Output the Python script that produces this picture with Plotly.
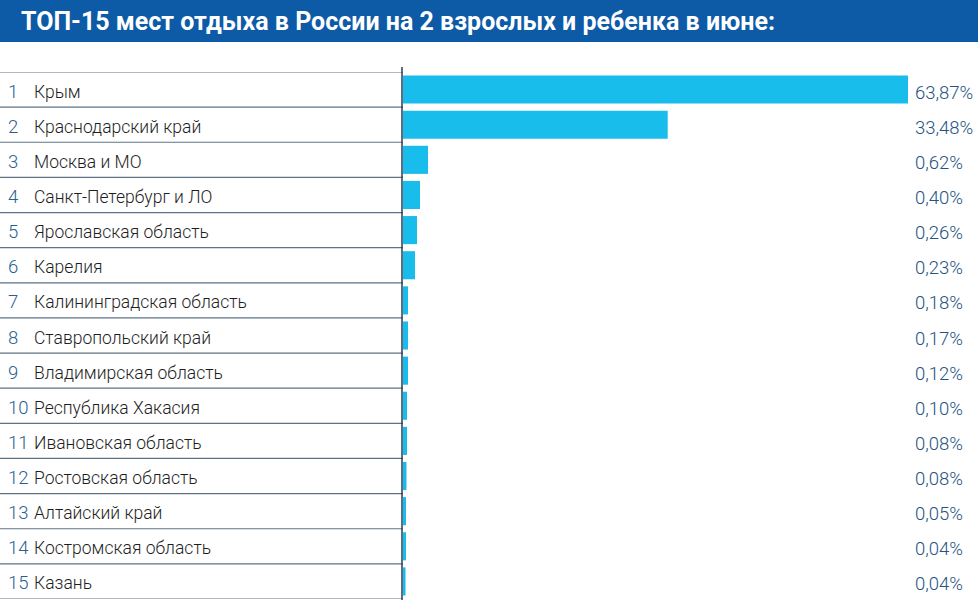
import plotly.graph_objects as go

title = "ТОП-15 мест отдыха в России на 2 взрослых и ребенка в июне:"
ranks = [str(i) for i in range(1, 16)]
regions = ["Крым", "Краснодарский край", "Москва и МО", "Санкт-Петербург и ЛО",
           "Ярославская область", "Карелия", "Калининградская область",
           "Ставропольский край", "Владимирская область", "Республика Хакасия",
           "Ивановская область", "Ростовская область", "Алтайский край",
           "Костромская область", "Казань"]
shares = [63.87, 33.48, 0.62, 0.40, 0.26, 0.23, 0.18, 0.17, 0.12, 0.10,
          0.08, 0.08, 0.05, 0.04, 0.04]
# bar lengths as drawn in the picture (small bars are visually enlarged in the original)
bar_lengths = [63.87, 33.48, 3.16, 2.15, 1.77, 1.52, 0.63, 0.63, 0.63, 0.51,
               0.51, 0.44, 0.38, 0.38, 0.32]

W, H = 978, 600
fmt = lambda v: f"{v:.2f}".replace(".", ",") + "%"

n = len(regions)
ypos = list(range(n))

fig = go.Figure()
fig.add_trace(go.Bar(
    x=bar_lengths, y=ypos, orientation="h",
    marker=dict(color="#19bdec", line=dict(width=0)),
    width=0.8, hoverinfo="skip", showlegend=False,
))

bar_left = 403
x_right_px = W
scale_px = 505 / shares[0]
xmax = (x_right_px - bar_left) / scale_px

top_px, bot_px = 72, 599
fig.update_layout(
    width=W, height=H,
    margin=dict(l=0, r=0, t=0, b=0),
    paper_bgcolor="white", plot_bgcolor="white",
    xaxis=dict(domain=[bar_left / W, 1], range=[0, xmax], visible=False, fixedrange=True),
    yaxis=dict(domain=[1 - bot_px / H, 1 - top_px / H], range=[n - 0.5, -0.5],
               visible=False, fixedrange=True),
    font=dict(family="Roboto, sans-serif"),
)

shapes = []
# title bar
shapes.append(dict(type="rect", xref="paper", yref="paper", x0=0, x1=1,
                   y0=1 - 42 / H, y1=1, fillcolor="#0d5aa7", line=dict(width=0), layer="below"))
# row lines
for i in range(n + 1):
    shapes.append(dict(type="line", xref="paper", yref="y", x0=0, x1=bar_left / W,
                       y0=i - 0.5, y1=i - 0.5, line=dict(color="#5f7385", width=1.2)))
# vertical separator
shapes.append(dict(type="line", xref="paper", yref="paper", x0=(bar_left - 1) / W, x1=(bar_left - 1) / W,
                   y0=0, y1=1 - 67 / H, line=dict(color="#2a3d50", width=1.5)))
fig.update_layout(shapes=shapes)

ann = []
ann.append(dict(text=f"<b>{title}</b>", xref="paper", yref="paper", x=19 / W, y=1 - 22 / H,
                xanchor="left", yanchor="middle", showarrow=False,
                font=dict(family="Roboto, sans-serif", size=25, color="white")))
for i in range(n):
    ann.append(dict(text=ranks[i], xref="paper", yref="y", x=6 / W, y=i, yshift=-2,
                    xanchor="left", yanchor="middle", showarrow=False,
                    font=dict(size=18.5, color="#2b5f8e", weight=300)))
    ann.append(dict(text=regions[i], xref="paper", yref="y", x=32 / W, y=i, yshift=-2,
                    xanchor="left", yanchor="middle", showarrow=False,
                    font=dict(size=17.5, color="#1e1e1e", weight=300)))
    ann.append(dict(text=fmt(shares[i]), xref="paper", yref="y", x=913 / W, y=i, yshift=-3,
                    xanchor="left", yanchor="middle", showarrow=False,
                    font=dict(size=18.5, color="#25547f", weight=300)))
fig.update_layout(annotations=ann)

fig.write_html("out.html")
